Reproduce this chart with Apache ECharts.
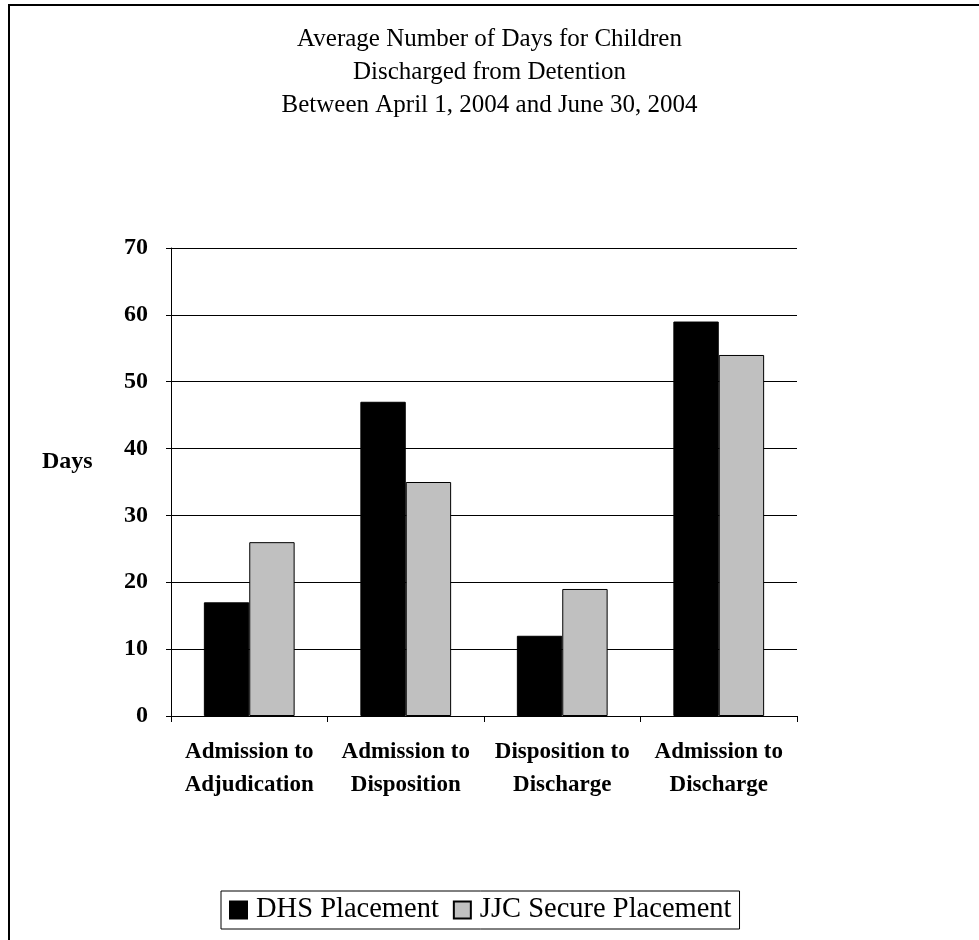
<!DOCTYPE html>
<html lang="en">
<head>
    <meta charset="UTF-8">
    <title>Average Number of Days</title>
    <script src="https://cdn.jsdelivr.net/npm/echarts@6/dist/echarts.min.js"></script>
</head>
<body style="margin:0;background:#fff;">
<div id="main" style="width: 979px;height:940px;"></div>
<script type="text/javascript">
    // 数据
    var categories = ['Admission to\nAdjudication', 'Admission to\nDisposition', 'Disposition to\nDischarge', 'Admission to\nDischarge'];
    var dhsValues = [17, 47, 12, 59];
    var jjcValues = [26, 35, 19, 54];
    var seriesNames = ['DHS Placement', 'JJC Secure Placement'];

    var serif = '"Liberation Serif", "Times New Roman", serif';
    var myChart = echarts.init(document.getElementById('main'));

    var option = {
        backgroundColor: '#fff',
        animation: false,
        title: {
            text: 'Average Number of Days for Children\nDischarged from Detention\nBetween April 1, 2004 and June 30, 2004',
            left: 'center',
            top: 18,
            textStyle: {fontFamily: serif, fontSize: 25, fontWeight: 'normal', color: '#000', lineHeight: 33}
        },
        legend: {
            data: seriesNames,
            icon: 'rect',
            left: 221,
            top: 891,
            padding: [4, 8, 4, 8],
            itemGap: 14,
            itemWidth: 17,
            itemHeight: 17,
            borderColor: '#000',
            borderWidth: 1,
            textStyle: {fontFamily: serif, fontSize: 28.5, color: '#000', lineHeight: 30, padding: [0, 0, 0, 4]}
        },
        grid: {left: 171, right: 182, top: 248, bottom: 224, containLabel: false},
        xAxis: {
            type: 'category',
            data: categories,
            axisLine: {lineStyle: {color: '#000', width: 1}},
            axisTick: {show: true, length: 6, lineStyle: {color: '#000'}},
            axisLabel: {
                fontFamily: serif, fontSize: 23, fontWeight: 'bold', color: '#000',
                lineHeight: 33, margin: 20, interval: 0
            }
        },
        yAxis: {
            type: 'value',
            min: 0,
            max: 70,
            interval: 10,
            axisLine: {show: true, lineStyle: {color: '#000', width: 1}},
            axisTick: {show: true, length: 5, lineStyle: {color: '#000'}},
            splitLine: {lineStyle: {color: '#000', width: 1}},
            axisLabel: {fontFamily: serif, fontSize: 24, fontWeight: 'bold', color: '#000', margin: 23}
        },
        graphic: [
            {
                type: 'rect',
                shape: {x: 9, y: 5, width: 1000, height: 1000},
                style: {fill: 'none', stroke: '#000', lineWidth: 2},
                silent: true
            },
            {
                type: 'text',
                left: 42,
                top: 450,
                style: {text: 'Days', fontFamily: serif, fontSize: 24, fontWeight: 'bold', fill: '#000'}
            }
        ],
        series: [
            {
                name: seriesNames[0],
                type: 'bar',
                data: dhsValues,
                barGap: '0%',
                barCategoryGap: '42%',
                itemStyle: {color: '#000', borderColor: '#000', borderWidth: 1}
            },
            {
                name: seriesNames[1],
                type: 'bar',
                data: jjcValues,
                itemStyle: {color: '#c0c0c0', borderColor: '#000', borderWidth: 1}
            }
        ]
    };
    myChart.setOption(option);
</script>
</body>
</html>
